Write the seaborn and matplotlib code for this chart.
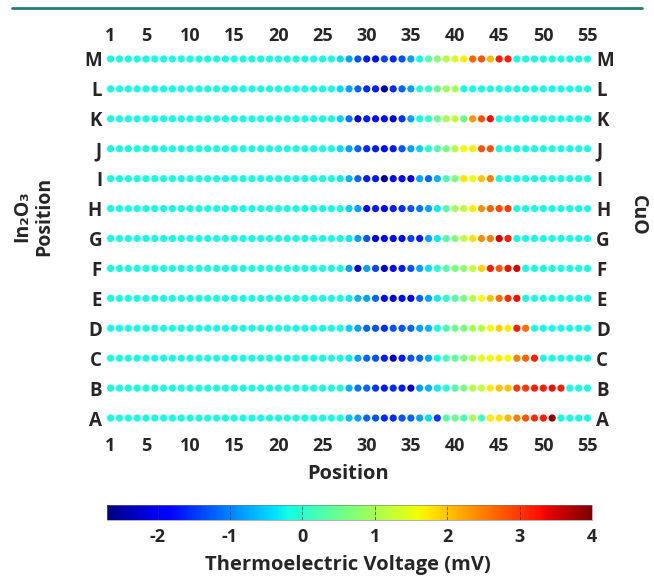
import numpy as np
import pandas as pd
import seaborn as sns
import matplotlib.pyplot as plt
from matplotlib.colors import Normalize
from matplotlib.cm import ScalarMappable
from matplotlib.lines import Line2D

sns.set_theme(style="white")
plt.rcParams['font.family'] = ['Open Sans', 'DejaVu Sans']
plt.rcParams['font.weight'] = 'bold'
plt.rcParams['axes.unicode_minus'] = False

# rows bottom to top, 55 positions per row
rows = ["A", "B", "C", "D", "E", "F", "G", "H", "I", "J", "K", "L", "M"]
positions = list(range(1, 56))
xtick_vals = [1, 5, 10, 15, 20, 25, 30, 35, 40, 45, 50, 55]
cbar_ticks = [-2, -1, 0, 1, 2, 3, 4]
vmin, vmax = -2.7, 4.0

# untouched positions sit at about this voltage (mV)
baseline = -0.2
first_col = 27  # readings below start here, the rest of a row is baseline

A = [-0.2, -0.6, -0.8, -1.2, -1.3, -1.6, -1.6, -1.3, -1.2, -0.8, -0.4, -1.5, 0.3, 0.5, 0.2,
     1.0, 0.1, 1.7, 1.8, 2.1, 2.5, 2.8, 3.1, 3.2, 3.9]
B = [-0.2, -0.7, -1.1, -1.2, -1.5, -1.7, -1.6, -1.7, -2.2, -0.8, -0.7, -0.3, -0.1, 0.3, 0.6,
     1.1, 1.2, 1.7, 2.0, 2.0, 3.0, 3.0, 3.2, 3.2, 3.3, 3.2]
C = [-0.2, -0.3, -0.8, -1.2, -1.3, -1.7, -2.3, -1.7, -1.3, -1.2, -0.8, -0.2, 0.2, 0.4, 0.7,
     1.1, 1.5, 1.6, 1.7, 1.6, 2.5, 2.7, 3.2]
D = [-0.2, -0.5, -0.8, -1.2, -1.3, -1.6, -1.3, -1.3, -1.2, -0.8, -0.7, -0.2, 0.2, 0.5, 0.6,
     1.0, 1.1, 1.6, 1.9, 1.7, 3.2, 2.6]
E = [-0.2, -0.3, -0.7, -0.8, -1.2, -1.8, -2.1, -1.8, -2.0, -1.2, -0.8, -0.3, 0.0, 0.3, 0.6,
     1.1, 1.6, 2.0, 2.6, 3.1, 3.3]
F = [-0.2, -0.8, -2.1, -0.8, -1.4, -2.2, -1.8, -1.7, -1.3, -0.8, -0.4, -0.1, 0.3, 0.6, 0.8,
     1.2, 1.9, 3.2, 2.8, 3.3, 3.5]
G = [-0.2, -0.3, -0.8, -1.3, -2.1, -1.9, -1.8, -1.8, -1.4, -1.7, -0.8, -0.3, 0.3, 0.7, 1.2,
     1.8, 2.4, 2.5, 3.5, 3.2]
H = [-0.2, -0.5, -0.8, -1.8, -1.7, -1.9, -1.7, -1.6, -1.3, -1.1, -0.8, -0.3, 0.3, 1.0, 1.2,
     1.7, 2.4, 2.7, 2.9, 3.0]
I = [-0.3, -0.7, -1.2, -1.7, -1.7, -2.6, -1.8, -1.8, -2.1, -0.8, -1.2, -0.7, 0.2, 0.6, 1.8,
     1.6, 2.0, 2.5]
J = [-0.4, -0.8, -1.2, -1.6, -1.7, -1.8, -1.7, -1.3, -0.8, -0.5, -0.1, 0.3, 0.6, 1.1, 1.6,
     1.7, 2.8, 2.8]
K = [-0.5, -1.1, -2.2, -1.7, -1.8, -1.8, -2.2, -1.5, -0.8, -0.2, 0.0, 0.5, 1.0, 1.2, 0.5,
     2.3, 2.8, 3.3]
L = [-0.4, -0.8, -1.2, -1.6, -1.7, -2.5, -1.6, -1.2, -0.8, -0.1, 0.0, 0.5, 0.9, 1.0]
M = [-0.4, -0.8, -1.3, -1.7, -1.8, -1.4, -1.6, -1.3, -0.8, -0.2, 0.3, 0.7, 1.1, 1.4, 1.7,
     2.7, 2.8, 2.1, 3.2, 3.2]
readings = [A, B, C, D, E, F, G, H, I, J, K, L, M]

recs = []
for ri, (name, vals) in enumerate(zip(rows, readings)):
    for p in positions:
        k = p - first_col
        v = vals[k] if 0 <= k < len(vals) else baseline
        recs.append({"pos": p, "row": ri + 1, "volt": v})
df = pd.DataFrame(recs)

fig = plt.figure(figsize=(6.54, 5.77), dpi=100)
W, Hh = 654, 577

# teal journal rule at the top
fig.add_artist(Line2D([12 / W, 642 / W], [1 - 8 / Hh, 1 - 8 / Hh], color="#1f7f76", lw=2))

jet = plt.get_cmap("jet")
norm = Normalize(vmin, vmax)

ax = fig.add_axes([106.2 / W, 1 - 433 / Hh, 485.7 / W, 389 / Hh])
sns.scatterplot(data=df, x="pos", y="row", hue="volt", palette=jet, hue_norm=norm,
                s=27, linewidth=0, legend=False, ax=ax)
ax.set_xlim(0.5, 55.5)
ax.set_ylim(0.5, 13.5)
for s in ax.spines.values():
    s.set_visible(False)
ax.set_xlabel("")
ax.set_ylabel("")
ax.set_xticks(xtick_vals)
ax.set_xticklabels([str(v) for v in xtick_vals])
ax.set_yticks(range(1, 14))
ax.set_yticklabels(rows)
ax.tick_params(axis="x", length=0, labelsize=13, pad=3)
ax.tick_params(axis="y", length=0, labelsize=13.5, right=True, labelright=True, pad=3)
for tk in ax.xaxis.get_major_ticks() + ax.yaxis.get_major_ticks():
    tk.label1.set_fontweight("bold")
    tk.label2.set_fontweight("bold")

# numbers along the top sit closer to the dots than those below
top = ax.secondary_xaxis("top")
top.set_xticks(xtick_vals)
top.set_xticklabels([str(v) for v in xtick_vals], fontweight="bold")
top.tick_params(length=0, labelsize=13, pad=-1)
for s in top.spines.values():
    s.set_visible(False)

fig.text(348 / W, 1 - 474 / Hh, "Position", ha="center", va="center", fontsize=14.5, fontweight="bold")
fig.text(22 / W, 1 - 216 / Hh, "In₂O₃", ha="center", va="center", rotation=90,
         fontsize=14, fontweight="bold")
fig.text(44 / W, 1 - 216 / Hh, "Position", ha="center", va="center", rotation=90,
         fontsize=14, fontweight="bold")
fig.text(638 / W, 1 - 215 / Hh, "CuO", ha="center", va="center", rotation=270,
         fontsize=14, fontweight="bold")

cax = fig.add_axes([107 / W, 1 - 520 / Hh, 485 / W, 15 / Hh])
sm = ScalarMappable(norm=norm, cmap=jet)
cb = fig.colorbar(sm, cax=cax, orientation="horizontal", ticks=cbar_ticks)
cb.outline.set_linewidth(0.4)
cb.outline.set_edgecolor("#777777")
cax.tick_params(length=0, labelsize=13, pad=6)
for t in cax.get_xticklabels():
    t.set_fontweight("bold")
for v in cbar_ticks[:-1]:
    cax.axvline(v, color="#333333", ls="--", lw=0.7, alpha=0.7)
fig.text(348 / W, 1 - 565 / Hh, "Thermoelectric Voltage (mV)", ha="center", va="center",
         fontsize=14.5, fontweight="bold")

fig.savefig("out.png", dpi=100)
